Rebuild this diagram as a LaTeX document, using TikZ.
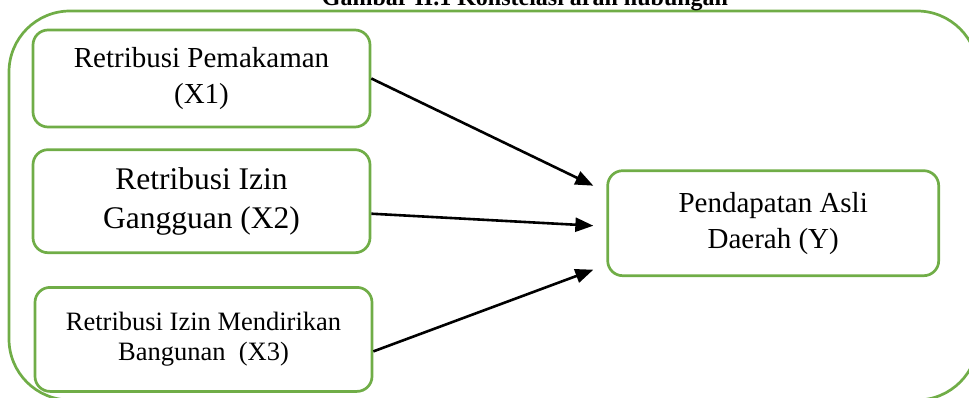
\documentclass[tikz,border=0pt]{standalone}
\usepackage{fontspec}
\setmainfont{Liberation Serif}
\usetikzlibrary{arrows.meta, positioning}
\definecolor{framegreen}{RGB}{112,173,71}

\begin{document}
\begin{tikzpicture}[x=1pt, y=-1pt,
   varbox/.style={draw=framegreen, line width=2.7pt, rounded corners=15pt,
                  minimum width=337pt, align=center},
   frame/.style={draw=framegreen, line width=2.7pt, rounded corners=61pt},
   infl/.style={-{Triangle[length=18pt,width=14pt]}, black, line width=2.6pt},
   ttl/.style={font=\fontsize{24}{28}\selectfont\bfseries},
   node distance=20pt and 235pt]

 \useasboundingbox (0,0) rectangle (969,398);

 % outer frame and title
 \draw[frame] (9,11) rectangle (978,400);
 \node[ttl, anchor=base] (title) at (525,6) {Gambar II.1 Konstelasi arah hubungan};

 % independent variables
 \node[varbox, minimum height=97pt, font=\fontsize{29}{36}\selectfont] (px1) at (201.5,78.5)
      {Retribusi Pemakaman\\(X1)};
 \node[varbox, minimum height=103pt, font=\fontsize{31.5}{39}\selectfont, below=of px1] (px2)
      {Retribusi Izin\\Gangguan (X2)};
 \node[varbox, minimum height=104pt, font=\fontsize{26.5}{30}\selectfont, below=32pt of px2, xshift=2pt] (px3)
      {Retribusi Izin Mendirikan\\Bangunan~ (X3)};

 % dependent variable
 \node[varbox, minimum width=331pt, minimum height=105pt, font=\fontsize{29}{36}\selectfont,
       right=of px2, yshift=-22pt] (py) {Pendapatan Asli\\Daerah (Y)};

 \coordinate (in1) at ([xshift=-13pt,yshift=37.5pt]py.west);
 \coordinate (in2) at ([xshift=-13pt,yshift=-2.5pt]py.west);
 \coordinate (in3) at ([xshift=-13pt,yshift=-46.5pt]py.west);

 \draw[infl] (px1.east) -- (in1);
 \draw[infl] ([yshift=-12.5pt]px2.east) -- (in2);
 \draw[infl] ([yshift=-12pt]px3.east) -- (in3);
\end{tikzpicture}
\end{document}
